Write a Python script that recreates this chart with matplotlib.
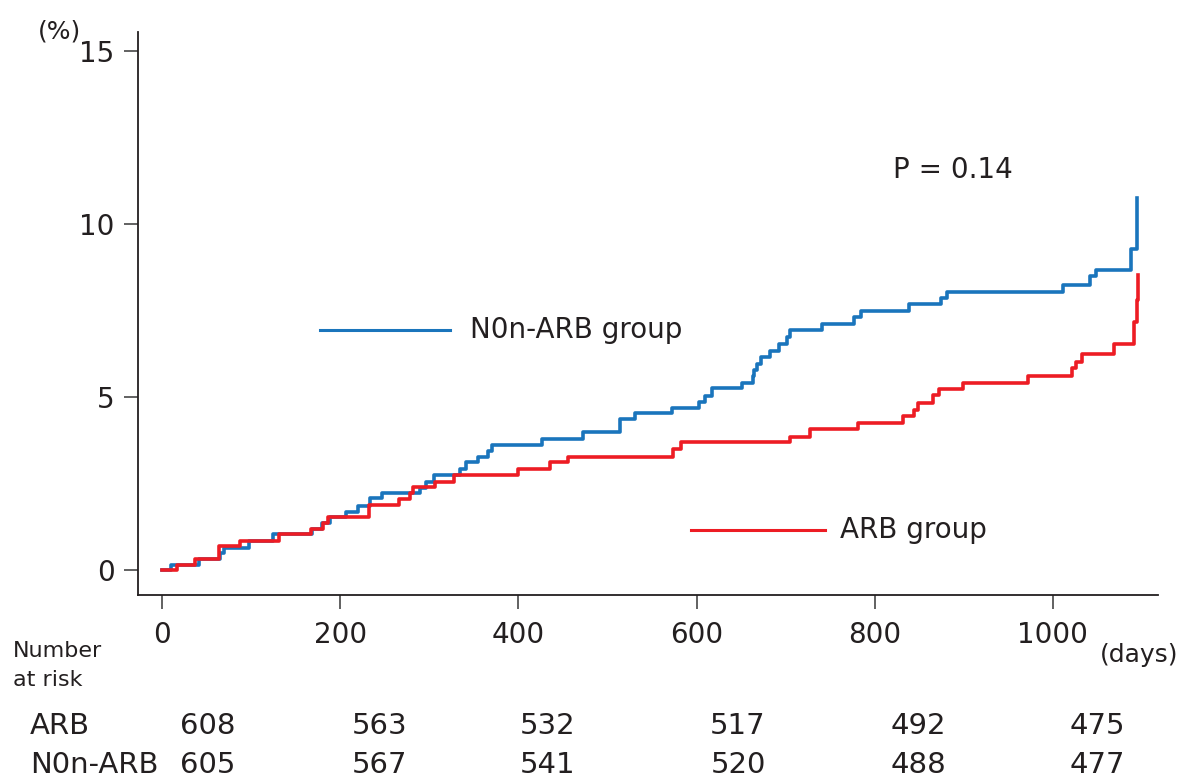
import numpy as np
import matplotlib
matplotlib.use('Agg')
import matplotlib.pyplot as plt

# cumulative incidence (%), step after each time (days)
arb_days = [0, 17, 37, 64, 87, 131, 167, 181, 186, 232, 266, 278, 282, 306, 328,
            400, 435, 456, 574, 583, 705, 727, 781, 832, 844, 849, 865, 872, 899,
            972, 1022, 1026, 1033, 1069, 1091, 1094, 1096]
arb_pct = [0, 0.16, 0.33, 0.69, 0.83, 1.03, 1.18, 1.35, 1.52, 1.87, 2.05, 2.22,
           2.39, 2.56, 2.76, 2.93, 3.11, 3.28, 3.51, 3.69, 3.84, 4.07, 4.24, 4.46,
           4.64, 4.82, 5.06, 5.23, 5.41, 5.61, 5.83, 6.02, 6.24, 6.53, 7.18, 7.8,
           8.53]

non_days = [0, 10, 41, 65, 70, 98, 124, 168, 180, 189, 207, 220, 233, 247, 290,
            296, 305, 335, 341, 355, 366, 370, 427, 472, 514, 531, 572, 603, 609,
            617, 651, 663, 665, 668, 672, 682, 693, 702, 705, 741, 777, 785, 838,
            875, 881, 1011, 1042, 1048, 1088, 1095]
non_pct = [0, 0.16, 0.33, 0.49, 0.65, 0.83, 1.03, 1.18, 1.35, 1.53, 1.69, 1.85,
           2.07, 2.22, 2.37, 2.55, 2.75, 2.91, 3.12, 3.27, 3.45, 3.61, 3.79, 3.98,
           4.36, 4.53, 4.69, 4.87, 5.04, 5.25, 5.41, 5.6, 5.79, 5.95, 6.17, 6.34,
           6.53, 6.73, 6.93, 7.1, 7.31, 7.49, 7.68, 7.85, 8.03, 8.24, 8.5, 8.67,
           9.27, 10.74]

risk_days = [0, 200, 400, 600, 800, 1000]
risk_arb = [608, 563, 532, 517, 492, 475]
risk_non = [605, 567, 541, 520, 488, 477]

blue = '#1a75bc'
red = '#ed1c24'
txt = '#231f20'

plt.rcParams['font.family'] = ['DejaVu Sans']

fig = plt.figure(figsize=(11.88, 7.79), dpi=100)
ax = fig.add_axes([0.1162, 0.2362, 0.8585, 0.7231])

ax.step(non_days, non_pct, where='post', color=blue, lw=2.6)
ax.step(arb_days, arb_pct, where='post', color=red, lw=2.6)

ax.set_xlim(-27, 1118)
ax.set_ylim(-0.72, 15.56)
ax.set_xticks([0, 200, 400, 600, 800, 1000])
ax.set_yticks([0, 5, 10, 15])
ax.tick_params(axis='both', direction='out', length=10, width=1.3,
               color='#555555', labelsize=20, labelcolor=txt)
ax.tick_params(axis='x', pad=9)
ax.tick_params(axis='y', pad=7)
for s in ['top', 'right']:
    ax.spines[s].set_visible(False)
for s in ['left', 'bottom']:
    ax.spines[s].set_linewidth(1.3)
    ax.spines[s].set_color(txt)

# in-plot labels
ax.plot([177, 323], [6.94, 6.94], color=blue, lw=2.2)
ax.text(346, 6.94, 'N0n-ARB group', fontsize=20, color=txt, va='center')
ax.plot([594, 744], [1.16, 1.16], color=red, lw=2.2)
ax.text(761, 1.16, 'ARB group', fontsize=20, color=txt, va='center')
ax.text(820, 11.56, 'P = 0.14', fontsize=20, color=txt, va='center')

fig.text(38 / 1188, 1 - 32 / 779, '(%)', fontsize=18, color=txt, va='center')
fig.text(1100 / 1188, 1 - 655 / 779, '(days)', fontsize=18, color=txt, va='center')

# number at risk table
fig.text(13 / 1188, 1 - 651 / 779, 'Number', fontsize=16, color=txt, va='center')
fig.text(13 / 1188, 1 - 680 / 779, 'at risk', fontsize=16, color=txt, va='center')
fig.text(30 / 1188, 1 - 726 / 779, 'ARB', fontsize=21, color=txt, va='center')
fig.text(30 / 1188, 1 - 765 / 779, 'N0n-ARB', fontsize=21, color=txt, va='center')
num_x = [208, 380, 548, 738, 918, 1097]
for i in range(len(risk_days)):
    fig.text(num_x[i] / 1188, 1 - 726 / 779, str(risk_arb[i]), fontsize=21,
             color=txt, va='center', ha='center')
    fig.text(num_x[i] / 1188, 1 - 765 / 779, str(risk_non[i]), fontsize=21,
             color=txt, va='center', ha='center')

fig.savefig('out.png', dpi=100)
